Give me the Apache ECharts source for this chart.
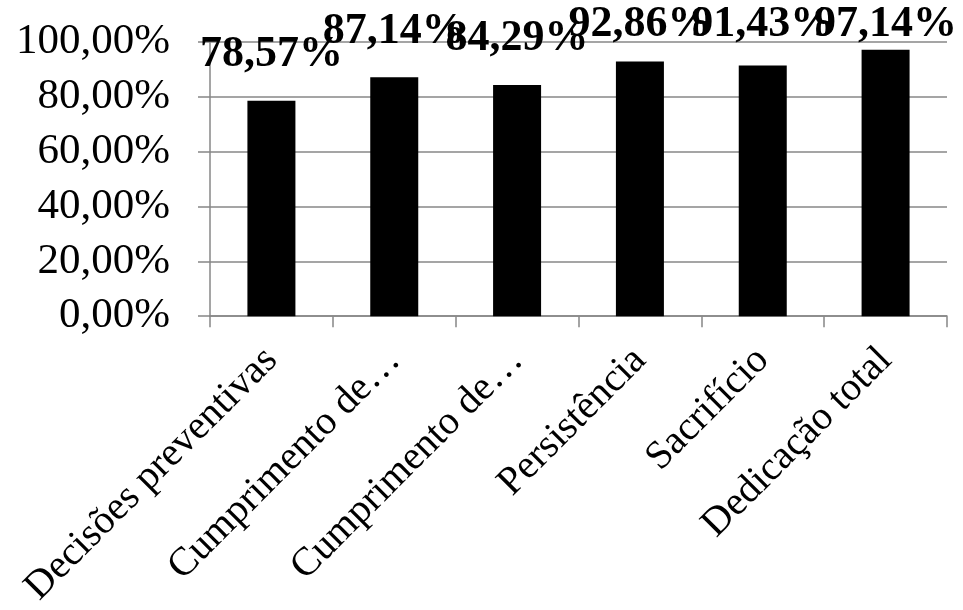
<!DOCTYPE html>
<html lang="pt">
<head>
    <meta charset="UTF-8">
    <title>Dedicação</title>
    <script src="https://cdn.jsdelivr.net/npm/echarts@6/dist/echarts.min.js"></script>
    <style>
        html, body, #main {
            width: 100%;
            height: 100%;
            padding: 0;
            margin: 0;
            background: #fff;
        }
    </style>
</head>
<body>
<div id="main"></div>
<script>
    var categories = ['Decisões preventivas', 'Cumprimento de…', 'Cumprimento de…', 'Persistência', 'Sacrifício', 'Dedicação total'];
    var values = [78.57, 87.14, 84.29, 92.86, 91.43, 97.14];

    var yTicks = { min: 0, max: 100, step: 20 };

    function pct(v) {
        return v.toFixed(2).replace('.', ',') + '%';
    }

    var serif = '"Liberation Serif", "Times New Roman", serif';
    var gray = '#878787';

    var myChart = echarts.init(document.getElementById('main'));
    myChart.setOption({
        animation: false,
        grid: { left: 210, right: 16, top: 42, bottom: 292 },
        xAxis: {
            type: 'category',
            data: categories,
            axisLine: { lineStyle: { color: gray, width: 1.5 } },
            axisTick: { show: true, length: 11, lineStyle: { color: gray, width: 1.5 } },
            axisLabel: {
                rotate: 45,
                interval: 0,
                margin: 38,
                fontFamily: serif,
                fontSize: 40,
                color: '#000'
            }
        },
        yAxis: {
            type: 'value',
            min: yTicks.min,
            max: yTicks.max,
            interval: yTicks.step,
            axisLine: { show: true, lineStyle: { color: gray, width: 1.5 } },
            axisTick: { show: true, length: 12, lineStyle: { color: gray, width: 1.5 } },
            splitLine: { lineStyle: { color: gray, width: 1.5 } },
            axisLabel: {
                margin: 40,
                fontFamily: serif,
                fontSize: 43,
                color: '#000',
                formatter: pct
            }
        },
        series: [{
            type: 'bar',
            data: values,
            barWidth: 48,
            itemStyle: { color: '#000' },
            label: {
                show: true,
                position: 'top',
                fontFamily: serif,
                fontWeight: 'bold',
                fontSize: 44,
                color: '#000',
                formatter: function (p) { return pct(p.value); }
            },
            // Excel-like: label sits ~24px above the bar, but never above the chart top
            labelLayout: function (p) {
                var top = Math.max(p.rect.y - 24 - p.labelRect.height, 3);
                return {
                    x: p.rect.x + p.rect.width / 2,
                    y: top,
                    align: 'center',
                    verticalAlign: 'top'
                };
            }
        }]
    });
</script>
</body>
</html>
